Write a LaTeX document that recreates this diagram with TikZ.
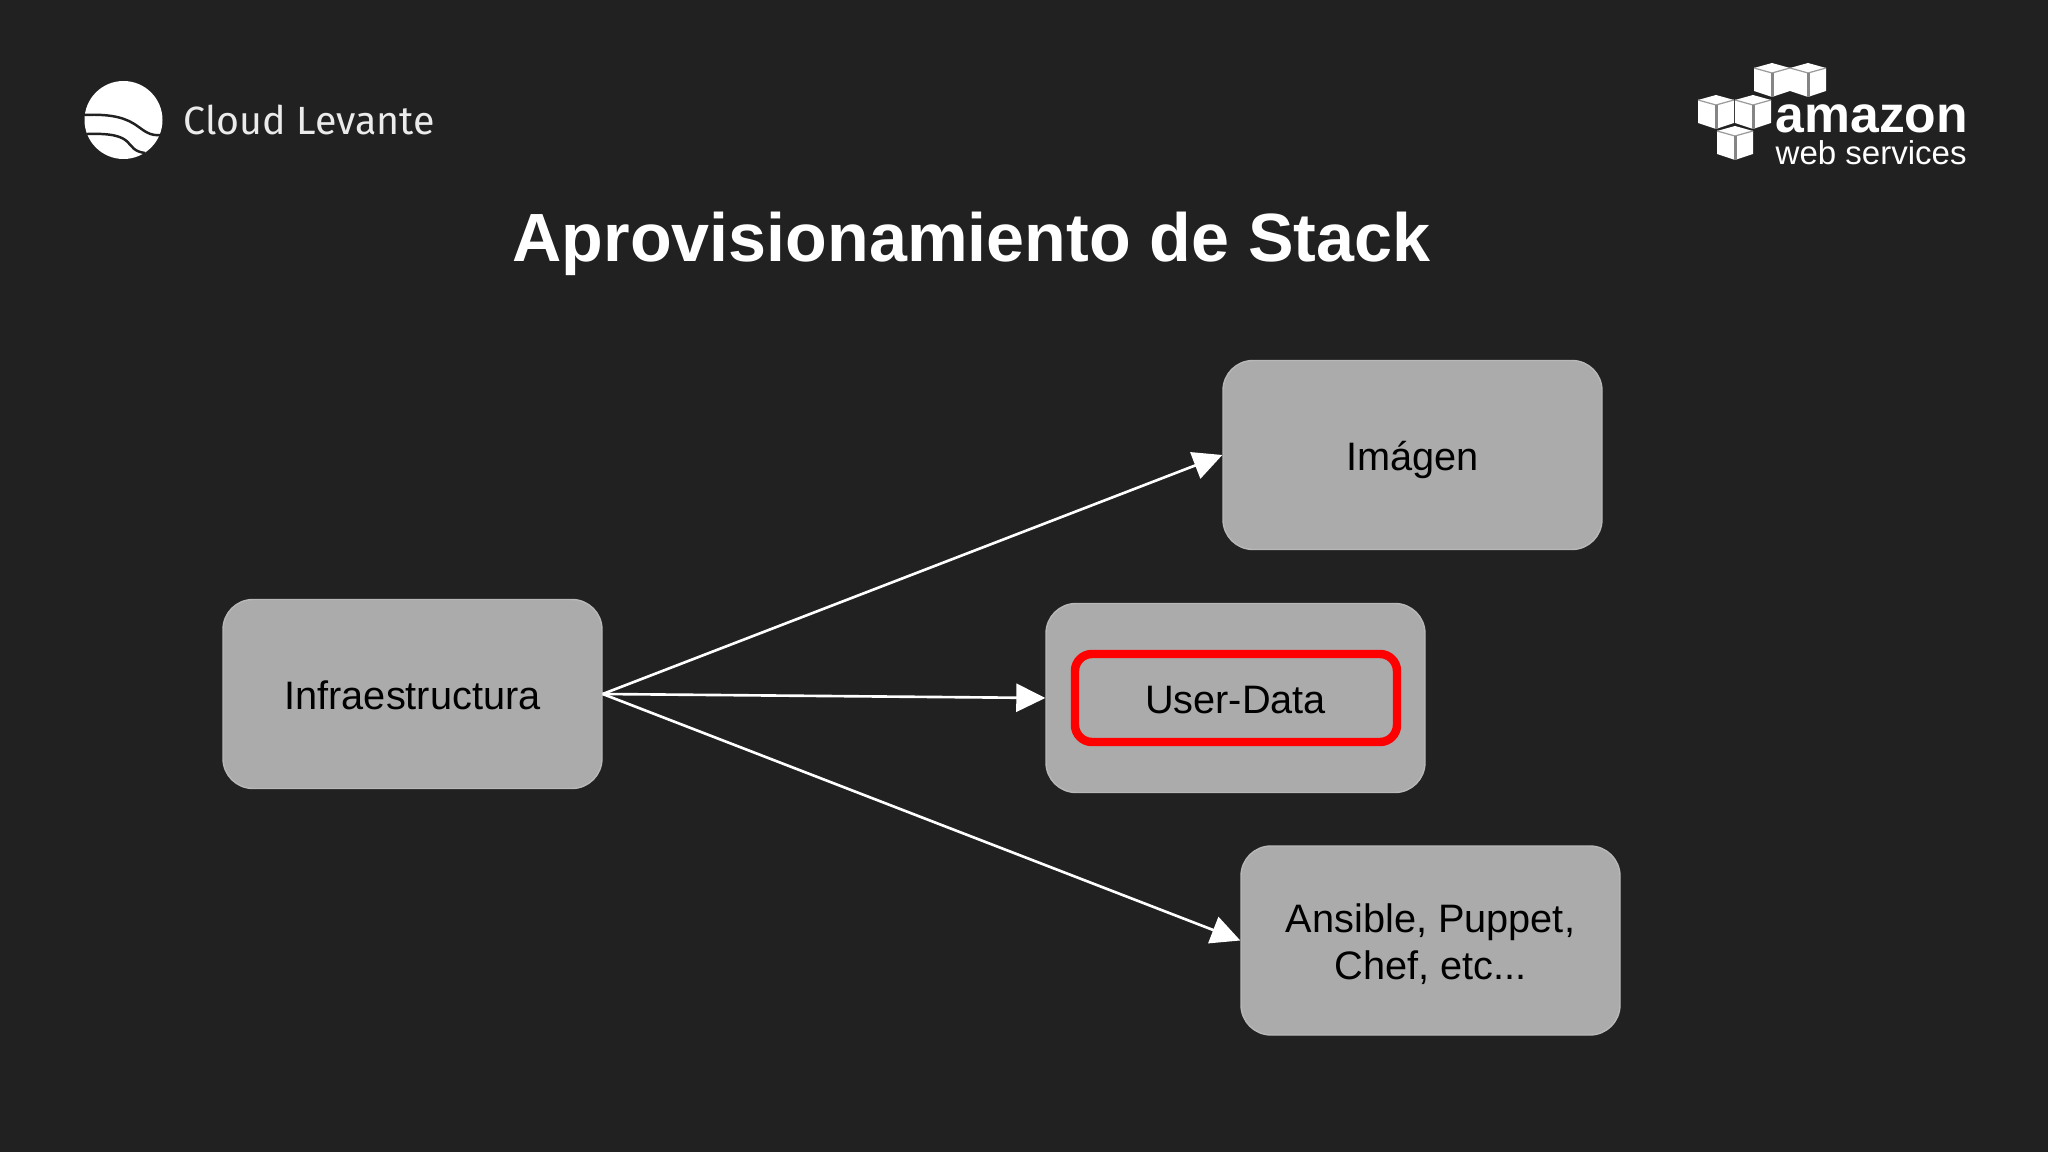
\documentclass[tikz,border=0pt]{standalone}
\usepackage{fontspec}
\setmainfont{Liberation Sans}
\newfontfamily\logofont{Fira Sans}
\usetikzlibrary{arrows.meta}
\definecolor{slidebg}{HTML}{212121}
\definecolor{boxgray}{HTML}{ABABAB}
\newcommand{\boxstrut}{\rule[-3pt]{0pt}{14.8pt}}
\newcommand{\boxtop}{\rule{0pt}{11.8pt}}
\newcommand{\boxbot}{\rule[-3pt]{0pt}{3pt}}
\tikzset{
	box/.style={draw=boxgray!85!white, line width=0.4pt, fill=boxgray, rounded corners=0.3cm, minimum width=3.79cm, minimum height=1.89cm, align=center, inner sep=0pt, text=black, font=\fontsize{11.3}{13.4}\selectfont},
	link/.style={draw=white, line width=0.75pt, -{Triangle[length=0.29cm,width=0.28cm]}},
	redbox/.style={draw=red, line width=2.4pt, rounded corners=0.17cm, minimum width=3.22cm, minimum height=0.88cm, inner sep=0pt},
	awscube/.pic={
		\fill[white] (-0.18,0.12) -- (0,0.17) -- (0.18,0.12) -- (0.18,-0.11) -- (0,-0.17) -- (-0.18,-0.11) -- cycle;
		\draw[slidebg!45!white, line width=0.35pt] (-0.18,0.12) -- (0,0.07) -- (0.18,0.12);
		\draw[slidebg!55!white, line width=0.85pt] (0,0.07) -- (0,-0.17);
	}
}
\begin{document}
\begin{tikzpicture}
	\fill[slidebg] (0,0) rectangle (20.48,-11.52);
	\useasboundingbox (0,0) rectangle (20.48,-11.52);
	
	%logo left
	\fill[white] (1.235,-1.20) circle (0.39);
	\draw[slidebg, line width=0.7pt] (0.84,-1.15) .. controls (1.45,-1.12) and (1.35,-1.38) .. (1.63,-1.35);
	\draw[slidebg, line width=0.7pt] (0.87,-1.34) .. controls (1.40,-1.32) and (1.22,-1.50) .. (1.45,-1.53);
	\node[anchor=base west, inner sep=0pt, text=white!92!black, font=\logofont\fontsize{11.2}{13}\selectfont] (cloudlevante) at (1.83,-1.35) {Cloud Levante};
	
	%logo right
	\foreach \x/\y in {17.72/-0.80, 18.08/-0.80, 17.16/-1.12, 17.53/-1.12, 17.35/-1.43}
	\pic at (\x,\y) {awscube};
	\node[anchor=base west, inner sep=0pt, text=white, font=\bfseries\fontsize{14.7}{16}\selectfont] (amazon) at (17.75,-1.33) {amazon};
	\node[anchor=base west, inner sep=0pt, text=white, font=\fontsize{9.4}{11}\selectfont] (webservices) at (17.75,-1.65) {web services};
	
	%title
	\node[text=white, inner sep=0pt, font=\bfseries\fontsize{19.42}{24}\selectfont] (title) at (9.716,-2.44) {Aprovisionamiento de Stack};
	
	%boxes
	\node[box] (infra) at (4.125,-6.94) {\boxstrut Infraestructura};
	\node[box] (imagen) at (14.125,-4.55) {\boxstrut Imágen};
	\node[box] (userdata) at (12.355,-6.98) {\boxstrut User-Data};
	\node[box] (ansible) at (14.305,-9.405) {\boxtop Ansible, Puppet,\\\boxbot Chef, etc...};
	\node[redbox] (userred) at (12.36,-6.98) {};
	
	%arrows
	\draw[link] (infra.east) -- (imagen.west);
	\draw[link] (infra.east) -- (userdata.west);
	\draw[link] (infra.east) -- (ansible.west);
\end{tikzpicture}
\end{document}
